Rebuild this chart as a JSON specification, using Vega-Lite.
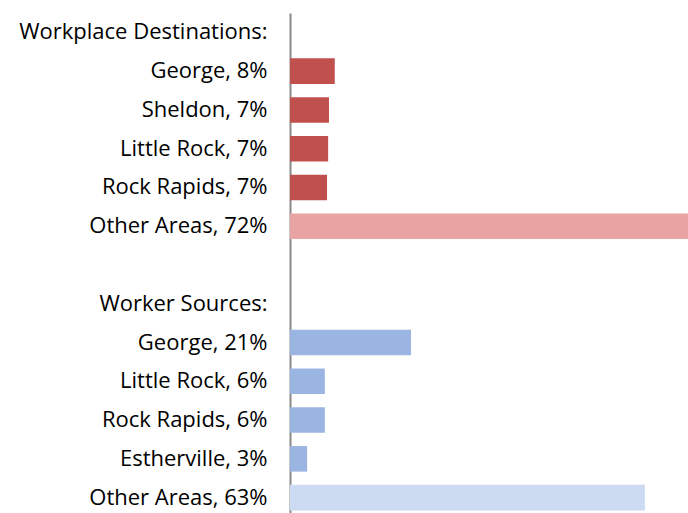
{
  "$schema": "https://vega.github.io/schema/vega-lite/v6.json",
  "width": 398,
  "height": 504,
  "autosize": {"type": "none"},
  "padding": {"left": 290, "top": 13, "right": 0, "bottom": 0},
  "background": "white",
  "config": {"view": {"stroke": null}},
  "data": {
    "values": [
      {"label": "Workplace Destinations:", "order": 1, "value": null, "kind": "dest"},
      {"label": "George, 8%", "order": 2, "value": 8.1, "kind": "dest"},
      {"label": "Sheldon, 7%", "order": 3, "value": 7.05, "kind": "dest"},
      {"label": "Little Rock, 7%", "order": 4, "value": 6.9, "kind": "dest"},
      {"label": "Rock Rapids, 7%", "order": 5, "value": 6.7, "kind": "dest"},
      {"label": "Other Areas, 72%", "order": 6, "value": 72, "kind": "destOther"},
      {"label": " ", "order": 7, "value": null, "kind": "dest"},
      {"label": "Worker Sources:", "order": 8, "value": null, "kind": "src"},
      {"label": "George, 21%", "order": 9, "value": 21.9, "kind": "src"},
      {"label": "Little Rock, 6%", "order": 10, "value": 6.3, "kind": "src"},
      {"label": "Rock Rapids, 6%", "order": 11, "value": 6.3, "kind": "src"},
      {"label": "Estherville, 3%", "order": 12, "value": 3.1, "kind": "src"},
      {"label": "Other Areas, 63%", "order": 13, "value": 64.2, "kind": "srcOther"}
    ]
  },
  "mark": {"type": "bar", "clip": false},
  "encoding": {
    "y": {
      "field": "label",
      "type": "nominal",
      "sort": {"field": "order", "op": "min"},
      "scale": {"paddingInner": 0.34, "paddingOuter": 0.17},
      "axis": {
        "title": null,
        "ticks": false,
        "domainColor": "#898989",
        "domainWidth": 2,
        "labelFont": "Open Sans",
        "labelFontSize": 22,
        "labelColor": "#000000",
        "labelPadding": 23,
        "labelLimit": 0
      }
    },
    "x": {
      "field": "value",
      "type": "quantitative",
      "scale": {"domain": [0, 72], "nice": false},
      "axis": null
    },
    "color": {
      "field": "kind",
      "type": "nominal",
      "scale": {
        "domain": ["dest", "destOther", "src", "srcOther"],
        "range": ["#C0504D", "#E9A3A2", "#9BB5E3", "#CCDAF2"]
      },
      "legend": null
    }
  }
}
